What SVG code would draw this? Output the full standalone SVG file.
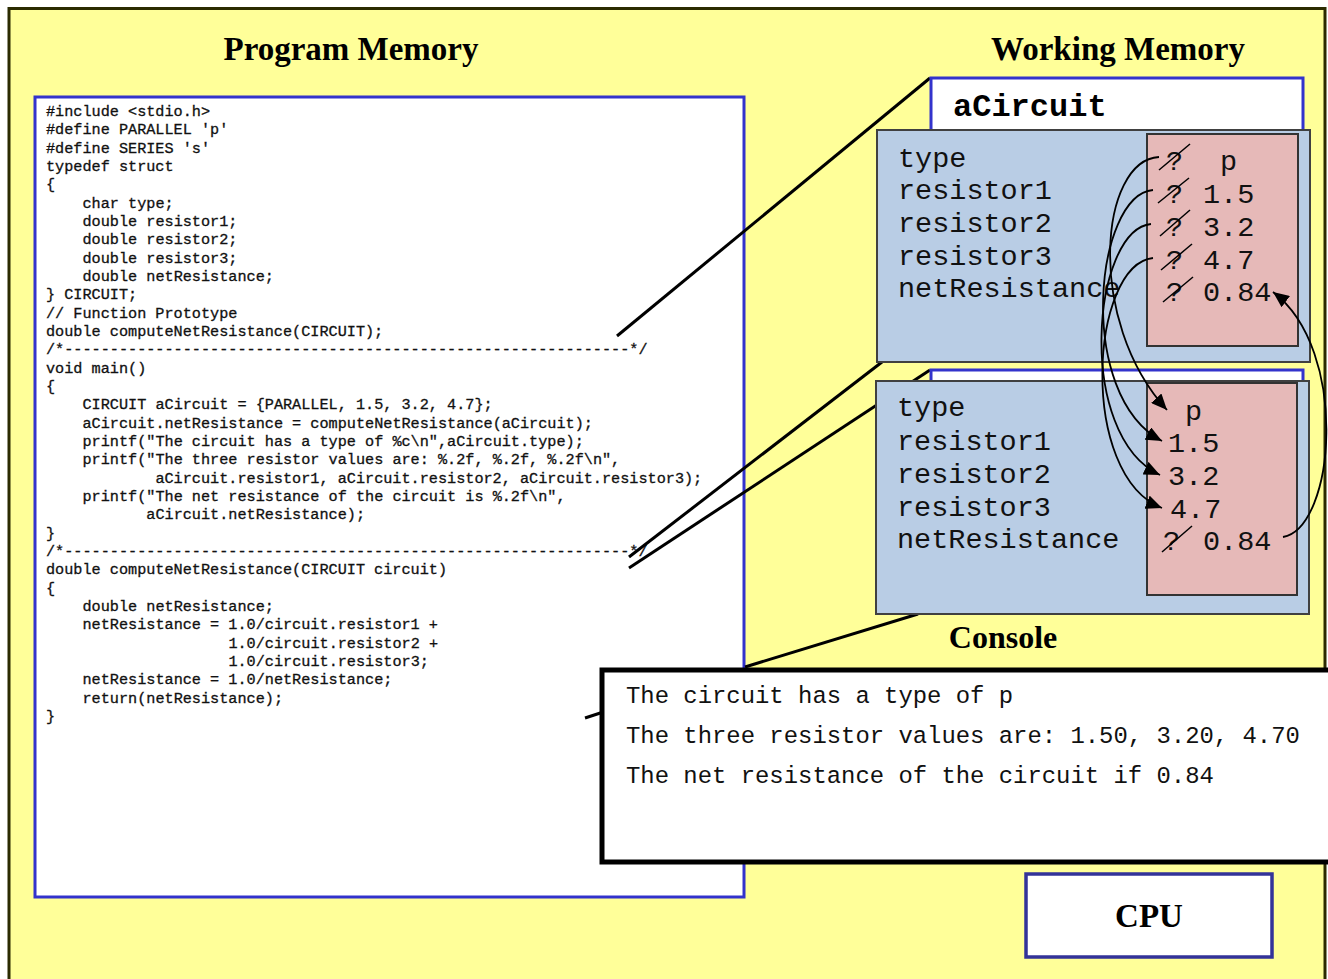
<svg xmlns="http://www.w3.org/2000/svg" width="1328" height="979" viewBox="0 0 1328 979">
<style>
.title{font-family:"Liberation Serif","Times New Roman",serif;font-weight:bold;font-size:33px;fill:#000}
.code{font-family:"Liberation Mono","Courier New",monospace;font-size:15.2px;fill:#111;stroke:#111;stroke-width:0.3}
.fld{font-family:"Liberation Mono","Courier New",monospace;font-size:28.5px;fill:#111}
.con{font-family:"Liberation Mono","Courier New",monospace;font-size:23.9px;fill:#111}
.ln{stroke:#000;stroke-width:3;fill:none}
.arr{stroke:#000;stroke-width:1.8;fill:none;marker-end:url(#ah)}
.strike{stroke:#000;stroke-width:1.5}
.bluebox{fill:#fff;stroke:#3333CC;stroke-width:3}
.struct{fill:#B9CDE5;stroke:#404040;stroke-width:2}
.vals{fill:#E6B9B8;stroke:#333;stroke-width:2}
</style>
<defs>
<marker id="ah" markerUnits="userSpaceOnUse" markerWidth="18" markerHeight="14" refX="16" refY="7" orient="auto"><path d="M0,0 L16,7 L0,14 z" fill="#000"/></marker>
</defs>
<rect x="0" y="0" width="1328" height="979" fill="#fff"/>
<rect id="background" x="9" y="8.5" width="1316" height="1000" fill="#FFFF99" stroke="#2B2B00" stroke-width="3"/>

<g id="program-memory">
<text class="title" x="351" y="60" text-anchor="middle">Program Memory</text>
<rect class="bluebox" x="35" y="97" width="709" height="800"/>
<g class="code">
<text x="46" y="116">#include &lt;stdio.h&gt;</text>
<text x="46" y="134.3">#define PARALLEL 'p'</text>
<text x="46" y="152.7">#define SERIES 's'</text>
<text x="46" y="171">typedef struct</text>
<text x="46" y="189.3">{</text>
<text x="82.5" y="207.7">char type;</text>
<text x="82.5" y="226">double resistor1;</text>
<text x="82.5" y="244.3">double resistor2;</text>
<text x="82.5" y="262.7">double resistor3;</text>
<text x="82.5" y="281">double netResistance;</text>
<text x="46" y="299.3">} CIRCUIT;</text>
<text x="46" y="317.7">// Function Prototype</text>
<text x="46" y="336">double computeNetResistance(CIRCUIT);</text>
<text x="46" y="354.3">/*--------------------------------------------------------------*/</text>
<text x="46" y="372.7">void main()</text>
<text x="46" y="391">{</text>
<text x="82.5" y="409.3">CIRCUIT aCircuit = {PARALLEL, 1.5, 3.2, 4.7};</text>
<text x="82.5" y="427.7">aCircuit.netResistance = computeNetResistance(aCircuit);</text>
<text x="82.5" y="446">printf("The circuit has a type of %c\n",aCircuit.type);</text>
<text x="82.5" y="464.3">printf("The three resistor values are: %.2f, %.2f, %.2f\n",</text>
<text x="155.4" y="482.7">aCircuit.resistor1, aCircuit.resistor2, aCircuit.resistor3);</text>
<text x="82.5" y="501">printf("The net resistance of the circuit is %.2f\n",</text>
<text x="146.3" y="519.3">aCircuit.netResistance);</text>
<text x="46" y="537.7">}</text>
<text x="46" y="556">/*--------------------------------------------------------------*/</text>
<text x="46" y="574.3">double computeNetResistance(CIRCUIT circuit)</text>
<text x="46" y="592.7">{</text>
<text x="82.5" y="611">double netResistance;</text>
<text x="82.5" y="629.3">netResistance = 1.0/circuit.resistor1 +</text>
<text x="228.4" y="647.7">1.0/circuit.resistor2 +</text>
<text x="228.4" y="666">1.0/circuit.resistor3;</text>
<text x="82.5" y="684.3">netResistance = 1.0/netResistance;</text>
<text x="82.5" y="702.7">return(netResistance);</text>
<text x="46" y="721">}</text>
</g>
</g>

<text class="title" x="1118" y="60" text-anchor="middle">Working Memory</text>

<g id="connectors-code">
<line class="ln" x1="617" y1="336" x2="930" y2="78"/>
<line class="ln" x1="629" y1="557" x2="882" y2="362"/>
<line class="ln" x1="629" y1="568" x2="930" y2="370"/>
<line class="ln" x1="745" y1="667" x2="918" y2="614"/>
<line class="ln" x1="585" y1="718" x2="640" y2="700"/>
</g>

<g id="struct-before">
<rect class="bluebox" x="931" y="78" width="372" height="60"/>
<text x="953" y="116" style="font-family:'Liberation Mono','Courier New',monospace;font-weight:bold;font-size:32px;fill:#000">aCircuit</text>
<rect class="struct" x="877" y="130" width="433" height="232"/>
<rect class="vals" x="1147" y="134" width="151" height="212"/>
<g class="fld">
<text x="898" y="167">type</text>
<text x="898" y="199">resistor1</text>
<text x="898" y="232">resistor2</text>
<text x="898" y="265">resistor3</text>
<text x="898" y="297">netResistance</text>
<text x="1166" y="170">?</text><text x="1220" y="170">p</text>
<text x="1166" y="203">?</text><text x="1203" y="203">1.5</text>
<text x="1166" y="236">?</text><text x="1203" y="236">3.2</text>
<text x="1166" y="269">?</text><text x="1203" y="269">4.7</text>
<text x="1166" y="301">?</text><text x="1203" y="301">0.84</text>
</g>
<line class="strike" x1="1159" y1="170" x2="1190" y2="144"/>
<line class="strike" x1="1158" y1="203" x2="1189" y2="178"/>
<line class="strike" x1="1160" y1="236" x2="1190" y2="210"/>
<line class="strike" x1="1161" y1="270" x2="1192" y2="244"/>
<line class="strike" x1="1163" y1="302" x2="1193" y2="277"/>
</g>

<g id="struct-after">
<rect class="bluebox" x="931" y="370" width="372" height="40"/>
<rect class="struct" x="876" y="381" width="433" height="233"/>
<rect class="vals" x="1147" y="383" width="150" height="212"/>
<g class="fld">
<text x="897" y="416">type</text>
<text x="897" y="450">resistor1</text>
<text x="897" y="483">resistor2</text>
<text x="897" y="516">resistor3</text>
<text x="897" y="548">netResistance</text>
<text x="1185" y="420">p</text>
<text x="1168" y="452">1.5</text>
<text x="1168" y="485">3.2</text>
<text x="1170" y="518">4.7</text>
<text x="1163" y="550">?</text><text x="1203" y="550">0.84</text>
</g>
<line class="strike" x1="1162" y1="552" x2="1192" y2="526"/>
</g>

<g id="connectors-values">
<path class="arr" d="M1159,157 C1100,160 1085,320 1167,410"/>
<path class="arr" d="M1153,190 C1095,195 1075,395 1162,441"/>
<path class="arr" d="M1151,224 C1092,230 1075,435 1160,475"/>
<path class="arr" d="M1153,258 C1090,265 1078,475 1162,508"/>
<path class="arr" d="M1283,537 C1335,528 1350,350 1273,292"/>
</g>

<g id="console">
<text class="title" x="1003" y="648" text-anchor="middle" style="font-size:32px">Console</text>
<rect x="602" y="670" width="740" height="192" fill="#fff" stroke="#000" stroke-width="5"/>
<g class="con">
<text x="626" y="703">The circuit has a type of p</text>
<text x="626" y="743">The three resistor values are: 1.50, 3.20, 4.70</text>
<text x="626" y="783">The net resistance of the circuit if 0.84</text>
</g>
</g>

<g id="cpu">
<rect x="1026" y="874" width="246" height="83" fill="#fff" stroke="#333399" stroke-width="3.5"/>
<text class="title" x="1149" y="927" text-anchor="middle">CPU</text>
</g>
</svg>
